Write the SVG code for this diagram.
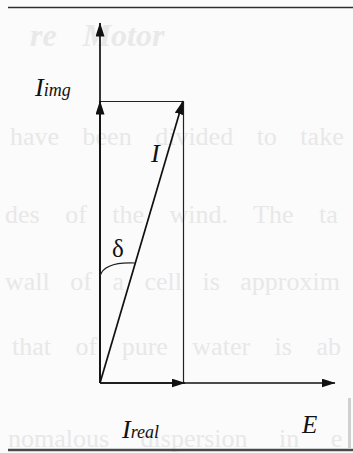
<svg xmlns="http://www.w3.org/2000/svg" width="353" height="453" viewBox="0 0 353 453">
  <style>
    .ghost { font-family: "Liberation Serif", "DejaVu Serif", serif; font-size: 26px; fill: #e8e8e8; }
    .ghost-title { font-family: "Liberation Serif", "DejaVu Serif", serif; font-size: 32px; font-weight: bold; font-style: italic; fill: #e9e9e9; }
    .lbl { font-family: "Liberation Serif", "DejaVu Serif", serif; font-style: italic; fill: #111; }
    .big { font-size: 26px; }
    .small { font-size: 18px; }
    .greek { font-family: "Liberation Serif", "DejaVu Serif", serif; font-size: 25px; fill: #111; }
    .vec { stroke: #111; stroke-width: 1.7; fill: none; marker-end: url(#head); }
    .thin { stroke: #222; stroke-width: 1.2; fill: none; }
  </style>
  <defs>
    <marker id="head" markerUnits="userSpaceOnUse" markerWidth="15" markerHeight="10" refX="13.5" refY="4.5" orient="auto">
      <path d="M0,0 L14,4.5 L0,9 z" fill="#111"/>
    </marker>
  </defs>
  <rect x="0" y="0" width="353" height="453" fill="#fbfbfb"/>

  <g id="background-text">
    <text class="ghost-title" x="30" y="46" word-spacing="18">re Motor</text>
    <text class="ghost" x="10" y="145" word-spacing="17">have been divided to take</text>
    <text class="ghost" x="5" y="223" word-spacing="19">des of the wind. The ta</text>
    <text class="ghost" x="5" y="290" word-spacing="14">wall of a cell is approxim</text>
    <text class="ghost" x="12" y="355" word-spacing="18">that of pure water is ab</text>
    <text class="ghost" x="8" y="447" word-spacing="25">nomalous dispersion in e</text>
  </g>

  <g id="frame">
    <line x1="8" y1="7.5" x2="353" y2="7.5" stroke="#2e2e2e" stroke-width="1.6"/>
    <line x1="8" y1="450" x2="353" y2="450" stroke="#4a4a4a" stroke-width="2.6"/>
    <rect x="348" y="398" width="3" height="51" fill="#d0d0d0"/>
  </g>

  <g id="connectors">
    <line class="thin" x1="100" y1="101.5" x2="183.5" y2="101.5"/>
    <line class="thin" x1="183.5" y1="101.5" x2="183.5" y2="383"/>
    <line class="vec" x1="100" y1="383" x2="100" y2="23"/>
    <line class="vec" x1="100" y1="383" x2="100" y2="101"/>
    <line class="vec" x1="100" y1="383" x2="183" y2="101"/>
    <line class="vec" x1="100" y1="383" x2="185" y2="383"/>
    <line class="vec" x1="100" y1="383" x2="335" y2="383"/>
    <path class="thin" d="M100,276 C103,266 114,262 135,263"/>
  </g>

  <g id="label-Iimg">
    <text class="lbl" x="35" y="96"><tspan class="big">I</tspan><tspan class="small">img</tspan></text>
  </g>
  <g id="label-I">
    <text class="lbl big" x="151" y="162">I</text>
  </g>
  <g id="label-delta">
    <text class="greek" x="112" y="257">δ</text>
  </g>
  <g id="label-Ireal">
    <text class="lbl" x="122" y="438"><tspan class="big">I</tspan><tspan class="small">real</tspan></text>
  </g>
  <g id="label-E">
    <text class="lbl" x="302" y="433" font-size="25">E</text>
  </g>
</svg>
